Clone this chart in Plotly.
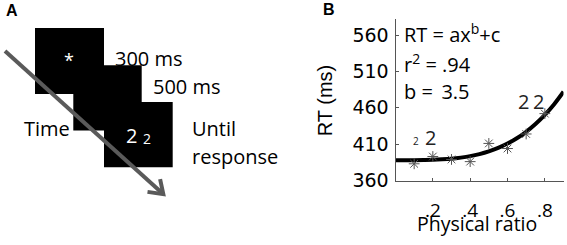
import plotly.graph_objects as go

# ---------------- data (panel B) ----------------
ratio = [0.1, 0.2, 0.3, 0.4, 0.5, 0.6, 0.7, 0.8]
rt_mean = [383, 393, 389, 386, 411, 404, 424, 452]

# fitted curve RT = a*x^b + c (b = 3.5)
fit_x = [0.0, 0.05, 0.1, 0.15, 0.2, 0.25, 0.3, 0.35, 0.4, 0.45, 0.5,
         0.55, 0.6, 0.65, 0.7, 0.75, 0.8, 0.85, 0.9]
fit_y = [388.0, 388.0, 388.0, 388.2, 388.5, 389.1, 390.0, 391.5, 393.5, 396.3, 400.0,
         404.8, 410.8, 418.1, 427.0, 437.7, 450.3, 465.0, 482.1]

x_tick_vals = [0.2, 0.4, 0.6, 0.8, 0.9]
x_tick_text = [".2", ".4", ".6", ".8", ""]
y_tick_vals = [360, 410, 460, 510, 560]
y_tick_text = ["360", "410", "460", "510", "560"]

W, H = 567, 245


def px(x):
    return x / W


def py(y):
    return 1 - y / H


fig = go.Figure()
fig.add_trace(go.Scatter(x=fit_x, y=fit_y, mode="lines", line=dict(color="black", width=4, shape="spline"),
                         hoverinfo="skip", showlegend=False))
fig.add_trace(go.Scatter(x=ratio, y=rt_mean, mode="markers",
                         marker=dict(symbol="asterisk-open", size=9, color="#555",
                                     line=dict(color="#555", width=1)),
                         showlegend=False))

CAL = "Open Sans"
ARI = "DejaVu Sans"

shapes = []
# panel A squares
for (x0, y0, x1, y1) in [(35, 29.3, 104, 98.3), (73.3, 68.3, 141.7, 136.7), (104, 106.7, 172.7, 175)]:
    shapes.append(dict(type="rect", xref="paper", yref="paper", x0=px(x0), x1=px(x1), y0=py(y1), y1=py(y0),
                       fillcolor="black", line=dict(width=0), layer="above"))
# arrow
shapes.append(dict(type="line", xref="paper", yref="paper", x0=px(5), y0=py(53.3), x1=px(161.5), y1=py(201.6),
                   line=dict(color="#5a5a5a", width=4), layer="above"))
shapes.append(dict(type="path", xref="paper", yref="paper",
                   path=f"M {px(147.5)},{py(200.9)} L {px(163.3)},{py(203.3)} L {px(160.1)},{py(187.6)}",
                   line=dict(color="#5a5a5a", width=4), layer="above"))

ann = []


def t(x, y, s, size, fam=CAL, color="black", xanchor="center", bold=False, angle=0):
    if bold:
        s = f"<b>{s}</b>"
    ann.append(dict(xref="paper", yref="paper", x=px(x), y=py(y), text=s, showarrow=False,
                    font=dict(family=fam, size=size, color=color), xanchor=xanchor, yanchor="middle",
                    textangle=angle))


t(11.7, 11, "A", 16, fam="Liberation Sans", bold=True)
t(329, 10, "B", 16, fam="Liberation Sans", bold=True)
t(69, 63, "*", 18, color="white")
t(131.7, 142, "2", 20, color="white")
t(146.7, 144.5, "2", 14, color="white")
t(113, 61, "300 ms", 20, xanchor="left")
t(151, 91, "500 ms", 20, xanchor="left")
t(21.5, 135, "Time", 20, xanchor="left")
t(189.5, 135, "Until", 20, xanchor="left")
t(189.5, 164, "response", 20, xanchor="left")

# panel B texts
t(402, 35, "RT = ax<sup>b</sup>+c", 20, xanchor="left")
t(402, 67, "r<sup>2</sup> = .94", 20, xanchor="left")
t(402, 96, "b = \u20093.5", 20, xanchor="left")
t(415.7, 148, "2", 10, color="#222")
t(430, 144, "2", 20, color="#222")
t(523.7, 106, "2", 20, color="#222")
t(538.7, 106, "2", 20, color="#222")
t(325, 106, "RT (ms)", 20, fam="Liberation Sans", angle=-90)
t(477, 234, "Physical ratio", 19.5)

fig.update_layout(
    width=W, height=H, margin=dict(l=0, r=0, t=0, b=0),
    paper_bgcolor="white", plot_bgcolor="white",
    shapes=shapes, annotations=ann, showlegend=False,
    xaxis=dict(domain=[px(395.5), px(563.5)], range=[0, 0.9], tickvals=x_tick_vals, ticktext=x_tick_text,
               ticks="inside", ticklen=3, tickcolor="#555", showline=True, linecolor="#555", linewidth=1,
               showgrid=False, zeroline=False, ticklabelstandoff=13,
               tickfont=dict(family=CAL, size=19, color="black")),
    yaxis=dict(domain=[py(189), py(20)], range=[360, 582], tickvals=y_tick_vals, ticktext=y_tick_text,
               ticks="inside", ticklen=3, tickcolor="#555", showline=True, linecolor="#555", linewidth=1,
               showgrid=False, zeroline=False, ticklabelstandoff=2,
               tickfont=dict(family=ARI, size=19, color="black")),
)

fig.write_html("out.html", config={"displayModeBar": False},
               post_script="document.body.style.margin='0';document.body.style.overflow='hidden';")
